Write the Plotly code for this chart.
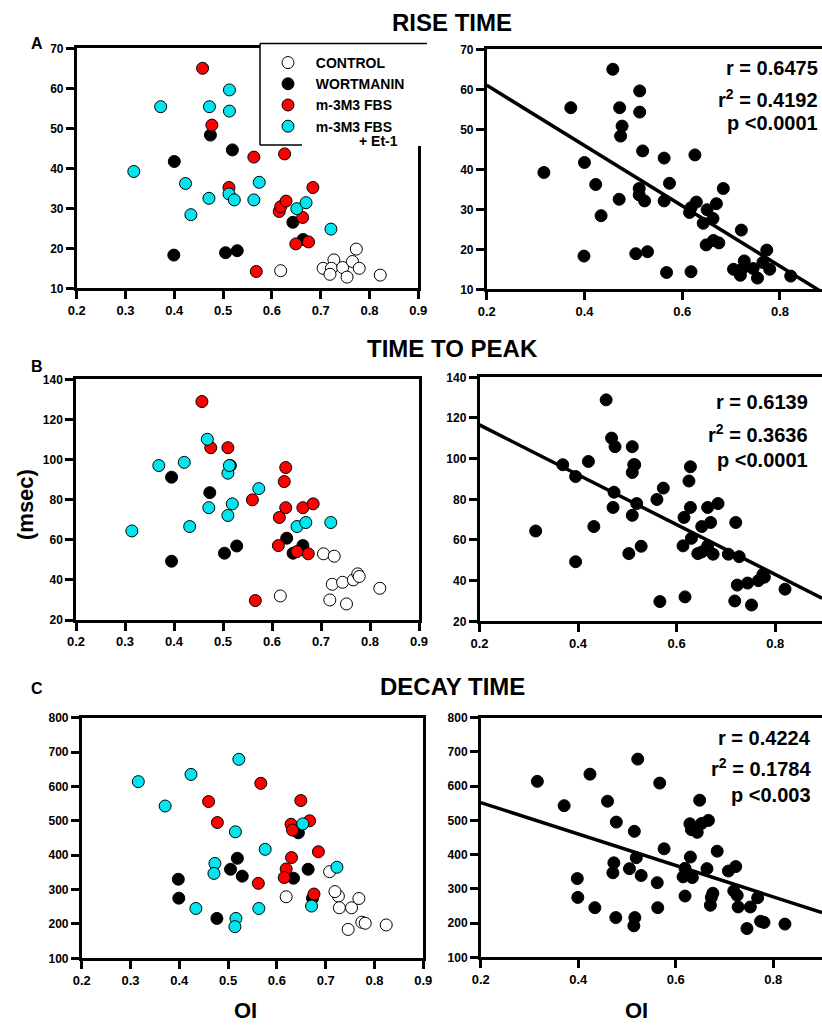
import plotly.graph_objects as go

W, H = 822, 1028

# ---------------- DATA ----------------
# Panel A: rise time (msec) vs OI
A_ctrl_x = [0.618, 0.705, 0.727, 0.722, 0.719, 0.745, 0.754, 0.765, 0.773, 0.779, 0.822]
A_ctrl_y = [14.4, 15.0, 17.1, 15.0, 13.5, 15.2, 12.8, 16.7, 19.8, 15.0, 13.3]
A_wort_x = [0.474, 0.519, 0.400, 0.399, 0.505, 0.529, 0.643, 0.664]
A_wort_y = [48.3, 44.6, 41.7, 18.3, 18.9, 19.4, 26.5, 22.2]
A_fbs_x = [0.458, 0.477, 0.563, 0.626, 0.512, 0.684, 0.615, 0.618, 0.629, 0.663, 0.649, 0.675, 0.568]
A_fbs_y = [65.0, 50.8, 42.8, 43.6, 35.2, 35.2, 29.2, 30.4, 31.8, 27.7, 21.1, 21.6, 14.2]
A_et1_x = [0.513, 0.372, 0.472, 0.513, 0.317, 0.423, 0.574, 0.471, 0.512, 0.523, 0.563, 0.434, 0.651, 0.670, 0.721]
A_et1_y = [59.6, 55.4, 55.4, 54.3, 39.2, 36.2, 36.5, 32.5, 33.6, 32.1, 32.1, 28.4, 29.9, 31.4, 24.8]

# Panel B: time to peak (msec) vs OI
B_ctrl_x = [0.705, 0.727, 0.617, 0.723, 0.744, 0.766, 0.775, 0.778, 0.820, 0.718, 0.752]
B_ctrl_y = [53.0, 51.8, 32.0, 37.8, 38.8, 40.0, 43.0, 41.7, 35.8, 30.0, 28.0]
B_wort_x = [0.395, 0.473, 0.515, 0.630, 0.663, 0.643, 0.503, 0.528, 0.395]
B_wort_y = [91.2, 83.5, 97.0, 60.8, 57.1, 53.3, 53.3, 56.9, 49.3]
B_fbs_x = [0.457, 0.475, 0.510, 0.628, 0.625, 0.560, 0.628, 0.663, 0.684, 0.615, 0.613, 0.674, 0.651, 0.566]
B_fbs_y = [128.9, 105.9, 105.9, 96.0, 89.0, 79.9, 76.0, 76.0, 77.9, 71.1, 57.1, 53.0, 54.1, 29.7]
B_et1_x = [0.468, 0.369, 0.421, 0.510, 0.513, 0.573, 0.471, 0.519, 0.510, 0.432, 0.651, 0.669, 0.720, 0.314]
B_et1_y = [110.1, 97.0, 98.6, 93.2, 97.0, 85.5, 76.0, 77.9, 72.1, 66.6, 66.6, 68.6, 68.6, 64.4]

# Panel C: decay time (msec) vs OI
C_ctrl_x = [0.619, 0.708, 0.726, 0.719, 0.728, 0.753, 0.768, 0.774, 0.781, 0.746, 0.824]
C_ctrl_y = [279, 352, 281, 294, 247, 247, 274, 205, 202, 184, 197]
C_wort_x = [0.519, 0.505, 0.529, 0.398, 0.399, 0.477, 0.664, 0.634, 0.644, 0.673]
C_wort_y = [391, 359, 339, 330, 275, 216, 359, 333, 465, 275]
C_fbs_x = [0.567, 0.460, 0.478, 0.649, 0.667, 0.629, 0.632, 0.630, 0.619, 0.615, 0.562, 0.685, 0.676]
C_fbs_y = [609, 556, 495, 559, 500, 490, 473, 393, 360, 335, 318, 410, 287]
C_et1_x = [0.316, 0.371, 0.424, 0.522, 0.515, 0.576, 0.473, 0.471, 0.434, 0.516, 0.514, 0.563, 0.653, 0.723, 0.671]
C_et1_y = [614, 543, 635, 679, 468, 417, 376, 347, 245, 216, 192, 245, 491, 365, 252]

PANEL_TITLES = ["RISE TIME", "TIME TO PEAK", "DECAY TIME"]
PANEL_LETTERS = ["A", "B", "C"]
GROUP_NAMES = ["CONTROL", "WORTMANIN", "m-3M3 FBS", "m-3M3 FBS"]
FIT_INTERCEPT = [76.1, 141.1, 643.8]
FIT_SLOPE = [-75.4, -122.6, -459.1]
STAT_R = ["0.6475", "0.6139", "0.4224"]
STAT_R2 = ["0.4192", "0.3636", "0.1784"]
STAT_P = ["<0.0001", "<0.0001", "<0.003"]
Y_RANGES = [(10, 70), (20, 140), (100, 800)]
Y_DTICKS = [10, 20, 100]

# ---------------- STYLE / LAYOUT GEOMETRY ----------------
GROUP_FILL = ["white", "black", "#ff0000", "#00e5ee"]
BOLD = "Liberation Sans, Arial, sans-serif"
NARROW = "Liberation Sans Narrow, Arial Narrow, Liberation Sans, Arial, sans-serif"

# pixel boxes: (x at 0.2, x at range end, y_top, y_bottom[, xmax])
LEFT_BOX = [(76.7, 418.3, 48.3, 288.3), (76.0, 419.0, 379.3, 620.0), (81.7, 423.3, 717.7, 958.3)]
RIGHT_BOX = [(486.7, 822, 49.3, 289.3, 0.886), (479.5, 822, 377.3, 621.3, 0.895), (480.8, 822, 717.7, 957.3, 0.900)]

def px(x):
    return x / W

def py(y):
    return 1 - y / H

groups = [
    [(A_ctrl_x, A_ctrl_y), (A_wort_x, A_wort_y), (A_fbs_x, A_fbs_y), (A_et1_x, A_et1_y)],
    [(B_ctrl_x, B_ctrl_y), (B_wort_x, B_wort_y), (B_fbs_x, B_fbs_y), (B_et1_x, B_et1_y)],
    [(C_ctrl_x, C_ctrl_y), (C_wort_x, C_wort_y), (C_fbs_x, C_fbs_y), (C_et1_x, C_et1_y)],
]

fig = go.Figure()
layout = {}

def axname(i):
    return "" if i == 1 else str(i)

common_axis = dict(
    showline=True, linecolor="black", linewidth=2.5,
    ticks="outside", ticklen=8, tickwidth=2.5, tickcolor="black",
    showgrid=False, zeroline=False, automargin=False, fixedrange=True,
)

for p in range(3):
    li = 2 * p + 1
    ri = 2 * p + 2
    lx0, lx1, lyt, lyb = LEFT_BOX[p]
    rx0, rx1, ryt, ryb, rxmax = RIGHT_BOX[p]
    ymin, ymax = Y_RANGES[p]

    layout["xaxis" + axname(li)] = dict(
        common_axis, domain=[px(lx0), px(lx1)], range=[0.2, 0.9], anchor="y" + axname(li),
        tickmode="linear", tick0=0.2, dtick=0.1, mirror=True,
        tickfont=dict(family=NARROW, size=13, color="black", weight="bold"),
    )
    layout["yaxis" + axname(li)] = dict(
        common_axis, domain=[py(lyb), py(lyt)], range=[ymin, ymax], anchor="x" + axname(li),
        tickmode="linear", tick0=ymin, dtick=Y_DTICKS[p], mirror=True,
        tickfont=dict(family=BOLD, size=12, color="black", weight="bold"),
    )
    layout["xaxis" + axname(ri)] = dict(
        common_axis, domain=[px(rx0), 1.0], range=[0.2, rxmax], anchor="y" + axname(ri),
        tickmode="linear", tick0=0.2, dtick=0.2, mirror=True,
        tickfont=dict(family=NARROW, size=13, color="black", weight="bold"),
    )
    layout["yaxis" + axname(ri)] = dict(
        common_axis, domain=[py(ryb), py(ryt)], range=[ymin, ymax], anchor="x" + axname(ri),
        tickmode="linear", tick0=ymin, dtick=Y_DTICKS[p],
        tickfont=dict(family=BOLD, size=12, color="black", weight="bold"),
    )

    # left panel: colored groups
    for g, (gx, gy) in enumerate(groups[p]):
        fig.add_trace(go.Scatter(
            x=gx, y=gy, mode="markers",
            xaxis="x" + axname(li), yaxis="y" + axname(li),
            name="\u00a0\u00a0" + GROUP_NAMES[g], showlegend=(p == 0), legendrank=g,
            marker=dict(size=12, color=GROUP_FILL[g], line=dict(color="black", width=1)),
        ))

    # right panel: all points in black + regression line
    all_x = [v for gx, gy in groups[p] for v in gx]
    all_y = [v for gx, gy in groups[p] for v in gy]
    fig.add_trace(go.Scatter(
        x=all_x, y=all_y, mode="markers", showlegend=False,
        xaxis="x" + axname(ri), yaxis="y" + axname(ri),
        marker=dict(size=12, color="black", line=dict(color="black", width=1)),
    ))
    fx = [0.2, rxmax]
    fy = [FIT_INTERCEPT[p] + FIT_SLOPE[p] * v for v in fx]
    fig.add_trace(go.Scatter(
        x=fx, y=fy, mode="lines", showlegend=False, cliponaxis=True,
        xaxis="x" + axname(ri), yaxis="y" + axname(ri),
        line=dict(color="black", width=3.5),
    ))

annotations = []
TITLE_Y = [22, 348, 686]
LETTER_Y = [44, 366, 688]
STAT_RIGHT = [820, 810, 813]
STAT_Y = [(68, 98, 123), (402, 433, 460), (738, 767, 795)]
for p in range(3):
    annotations.append(dict(
        text=PANEL_TITLES[p], x=px(452), y=py(TITLE_Y[p]), xref="paper", yref="paper",
        showarrow=False, xanchor="center", yanchor="middle",
        font=dict(family=BOLD, size=24, color="black", weight="bold"),
    ))
    annotations.append(dict(
        text=PANEL_LETTERS[p], x=px(37), y=py(LETTER_Y[p]), xref="paper", yref="paper",
        showarrow=False, xanchor="center", yanchor="middle",
        font=dict(family=BOLD, size=16, color="black", weight="bold"),
    ))
    lines = ["r = " + STAT_R[p], "r<sup>2</sup> = " + STAT_R2[p], "p " + STAT_P[p]]
    for k, t in enumerate(lines):
        annotations.append(dict(
            text=t, x=px(STAT_RIGHT[p]), y=py(STAT_Y[p][k]), xref="paper", yref="paper",
            showarrow=False, xanchor="right", yanchor="middle",
            font=dict(family=BOLD, size=20, color="black", weight="bold"),
        ))

annotations.append(dict(
    text="(msec)", x=px(25), y=py(505), xref="paper", yref="paper", textangle=-90,
    showarrow=False, xanchor="center", yanchor="middle",
    font=dict(family=BOLD, size=22, color="black", weight="bold"),
))
for xc in (245, 636):
    annotations.append(dict(
        text="OI", x=px(xc), y=py(1010), xref="paper", yref="paper",
        showarrow=False, xanchor="center", yanchor="middle",
        font=dict(family=BOLD, size=22, color="black", weight="bold"),
    ))
annotations.append(dict(
    text="+ Et-1", x=px(357), y=py(141), xref="paper", yref="paper",
    showarrow=False, xanchor="left", yanchor="middle",
    font=dict(family=BOLD, size=14, color="black", weight="bold"),
))

shapes = [
    dict(type="rect", xref="paper", yref="paper", x0=px(260), x1=px(428), y0=py(146), y1=py(43),
         fillcolor="white", line=dict(width=0), layer="above"),
    dict(type="line", xref="paper", yref="paper", x0=px(260), x1=px(427), y0=py(43.5), y1=py(43.5),
         line=dict(color="black", width=1.5), layer="above"),
    dict(type="line", xref="paper", yref="paper", x0=px(260), x1=px(260), y0=py(43.5), y1=py(145),
         line=dict(color="black", width=1.5), layer="above"),
    dict(type="line", xref="paper", yref="paper", x0=px(260), x1=px(302), y0=py(145), y1=py(145),
         line=dict(color="black", width=1.5), layer="above"),
    dict(type="line", xref="paper", yref="paper", x0=px(419.5), x1=px(419.5), y0=py(146), y1=py(150),
         line=dict(color="black", width=2.5), layer="above"),
]

fig.update_layout(
    width=W, height=H, margin=dict(l=0, r=0, t=0, b=0, pad=0, autoexpand=False),
    paper_bgcolor="white", plot_bgcolor="white",
    annotations=annotations, shapes=shapes,
    legend=dict(
        x=px(268), y=py(47), xanchor="left", yanchor="top",
        bgcolor="rgba(0,0,0,0)", borderwidth=0, tracegroupgap=0,
        font=dict(family=BOLD, size=14, color="black", weight="bold"),
        itemsizing="trace",
    ),
    **layout,
)

fig.write_html(
    "out.html",
    config={"displayModeBar": False},
    post_script="document.body.style.margin='0';document.body.style.overflow='hidden';",
)
